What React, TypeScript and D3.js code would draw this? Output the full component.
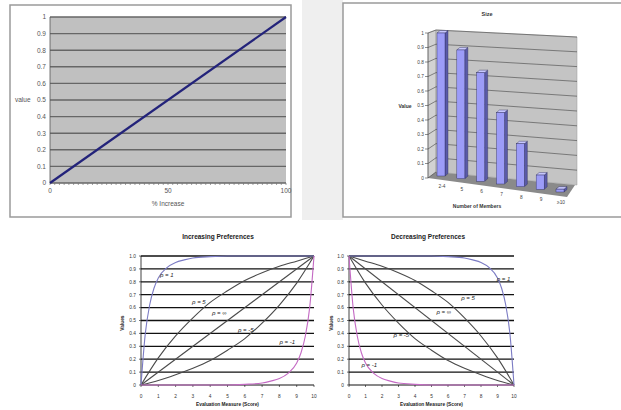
import React from 'react';
import * as d3 from 'd3';

// ---------- Data ----------
// Top-left: value vs % increase
const pctIncrease = [0, 100];
const pctValue = [0, 1];
const tlYTicks = [0, 0.1, 0.2, 0.3, 0.4, 0.5, 0.6, 0.7, 0.8, 0.9, 1];
const tlXTicks = [0, 50, 100];

// Top-right: Size (3D column)
const sizeCats = ['2-4', '5', '6', '7', '8', '9', '≥10'];
const sizeVals = [1.0, 0.9, 0.76, 0.5, 0.3, 0.1, 0.02];
const sizeTicks = [0, 0.1, 0.2, 0.3, 0.4, 0.5, 0.6, 0.7, 0.8, 0.9, 1];

// Bottom: preference curves
const prefYTicks = [0, 0.1, 0.2, 0.3, 0.4, 0.5, 0.6, 0.7, 0.8, 0.9, 1.0];
const prefXTicks = [0, 1, 2, 3, 4, 5, 6, 7, 8, 9, 10];

const incR1X = [0, 0.25, 0.5, 0.75, 1, 1.5, 2, 2.5, 3, 4, 5, 6, 7, 8, 9, 10];
const incR1Y = [0, 0.4, 0.62, 0.75, 0.83, 0.91, 0.95, 0.97, 0.985, 0.995, 1, 1, 1, 1, 1, 1];
const incR5X = [0, 1, 2, 3, 4, 5, 6, 7, 8, 9, 10];
const incR5Y = [0, 0.21, 0.38, 0.52, 0.64, 0.73, 0.81, 0.87, 0.92, 0.96, 1];
const incRInfX = [0, 10];
const incRInfY = [0, 1];
const incRm5X = [0, 1, 2, 3, 4, 5, 6, 7, 8, 9, 10];
const incRm5Y = [0, 0.035, 0.08, 0.13, 0.19, 0.27, 0.36, 0.48, 0.62, 0.79, 1];
const incRm1X = [0, 5, 6, 7, 7.5, 8, 8.5, 9, 9.25, 9.5, 9.75, 10];
const incRm1Y = [0, 0, 0.005, 0.015, 0.03, 0.05, 0.09, 0.17, 0.25, 0.38, 0.6, 1];

const decR1X = [0, 1, 2, 3, 4, 5, 6, 7, 7.5, 8, 8.5, 9, 9.25, 9.5, 9.75, 10];
const decR1Y = [1, 1, 1, 1, 1, 1, 0.995, 0.985, 0.97, 0.95, 0.91, 0.83, 0.75, 0.62, 0.4, 0];
const decR5X = [0, 1, 2, 3, 4, 5, 6, 7, 8, 9, 10];
const decR5Y = [1, 0.96, 0.92, 0.87, 0.81, 0.73, 0.64, 0.52, 0.38, 0.21, 0];
const decRInfX = [0, 10];
const decRInfY = [1, 0];
const decRm5X = [0, 1, 2, 3, 4, 5, 6, 7, 8, 9, 10];
const decRm5Y = [1, 0.79, 0.62, 0.48, 0.36, 0.27, 0.19, 0.13, 0.08, 0.035, 0];
const decRm1X = [0, 0.25, 0.5, 0.75, 1, 1.5, 2, 2.5, 3, 4, 5, 10];
const decRm1Y = [1, 0.6, 0.38, 0.25, 0.17, 0.09, 0.05, 0.03, 0.015, 0.005, 0, 0];

const incLabels = ['ρ = 1', 'ρ = 5', 'ρ = ∞', 'ρ = -5', 'ρ = -1'];
const incLabelX = [1.1, 2.95, 4.1, 5.6, 8.0];
const incLabelY = [0.84, 0.63, 0.54, 0.41, 0.32];
const decLabels = ['ρ = 1', 'ρ = 5', 'ρ = ∞', 'ρ = -5', 'ρ = -1'];
const decLabelX = [8.95, 6.8, 5.3, 2.7, 0.75];
const decLabelY = [0.81, 0.66, 0.55, 0.37, 0.14];

const FONT = '"Liberation Sans", Arial, sans-serif';
const LAV = '#7b7bc4';
const PINK = '#c46ac4';
const DARK = '#4a4a4a';

function TopLeft() {
  const x = d3.scaleLinear().domain([0, 100]).range([50, 286]);
  const y = d3.scaleLinear().domain([0, 1]).range([183, 17]);
  const line = d3.line<number>().x((_, i) => x(pctIncrease[i])).y((d) => y(d));
  const minor = d3.range(0, 101, 2);
  return (
    <g>
      <rect x={10} y={5} width={281} height={212} fill="#fff" stroke="#9a9a9a" strokeWidth={1.5} />
      <rect x={x(0)} y={y(1)} width={x(100) - x(0)} height={y(0) - y(1)} fill="#c0c0c0" />
      {tlYTicks.map((t) => (
        <line key={t} x1={x(0)} x2={x(100)} y1={y(t)} y2={y(t)} stroke="#666" strokeWidth={1.4} />
      ))}
      {minor.map((m) => (
        <line key={m} x1={x(m)} x2={x(m)} y1={y(0)} y2={y(0) + 2} stroke="#777" strokeWidth={0.7} />
      ))}
      <line x1={x(0)} x2={x(0)} y1={y(0)} y2={y(1)} stroke="#555" strokeWidth={0.8} />
      {tlYTicks.map((t) => (
        <text key={t} x={x(0) - 4} y={y(t) + 2.3} fontSize={6.5} fill="#555" textAnchor="end" fontFamily={FONT}>
          {d3.format('~g')(t)}
        </text>
      ))}
      {tlXTicks.map((t) => (
        <text key={t} x={x(t)} y={y(0) + 10} fontSize={6.5} fill="#555" textAnchor="middle" fontFamily={FONT}>
          {t}
        </text>
      ))}
      <text x={x(50)} y={206} fontSize={6.5} fill="#555" textAnchor="middle" fontFamily={FONT}>% Increase</text>
      <text x={15} y={y(0.5) + 2.3} fontSize={6.5} fill="#555" fontFamily={FONT}>value</text>
      <path d={line(pctValue) || ''} fill="none" stroke="#23237a" strokeWidth={2.2} />
    </g>
  );
}

function TopRight() {
  const xs = d3.scalePoint<string>().domain(sizeCats).range([441, 560]);
  const base = d3.scaleLinear().domain([441, 560]).range([176, 192]);
  const h = d3.scaleLinear().domain([0, 1]).range([0, 143]);
  const yAx = d3.scaleLinear().domain([0, 1]).range([178, 33]);
  const wallL = d3.scaleLinear().domain([0, 1]).range([172, 30]);
  const wallR = d3.scaleLinear().domain([0, 1]).range([185, 37]);
  const fx = 428, bx = 436, rx = 577;
  return (
    <g>
      <rect x={302} y={0} width={41} height={220} fill="#efefef" />
      <rect x={343} y={3} width={290} height={214} fill="#fff" stroke="#9a9a9a" strokeWidth={1.5} />
      <text x={487} y={16} fontSize={5.5} fontWeight="bold" fill="#333" textAnchor="middle" fontFamily={FONT}>Size</text>
      <polygon points={`${fx},${yAx(1)} ${bx},${wallL(1)} ${bx},${wallL(0)} ${fx},${yAx(0)}`} fill="#d2d2d2" stroke="#888" strokeWidth={0.5} />
      <polygon points={`${bx},${wallL(1)} ${rx},${wallR(1)} ${rx},${wallR(0)} ${bx},${wallL(0)}`} fill="#c4c4c4" stroke="#999" strokeWidth={0.5} />
      <polygon points={`${fx},${yAx(0)} ${bx},${wallL(0)} ${rx - 2},${wallR(0)} ${rx - 10},197`} fill="#8a8a8a" />
      {sizeTicks.map((t) => (
        <g key={t}>
          <line x1={fx} x2={bx} y1={yAx(t)} y2={wallL(t)} stroke="#444" strokeWidth={0.6} />
          {t > 0 && <line x1={bx} x2={rx} y1={wallL(t)} y2={wallR(t)} stroke="#444" strokeWidth={0.6} />}
          <line x1={fx - 3} x2={fx} y1={yAx(t)} y2={yAx(t)} stroke="#444" strokeWidth={0.6} />
          <text x={fx - 4} y={yAx(t) + 1.8} fontSize={4.8} fill="#444" textAnchor="end" fontFamily={FONT}>
            {d3.format('~g')(t)}
          </text>
        </g>
      ))}
      <line x1={fx} x2={fx} y1={yAx(0)} y2={yAx(1)} stroke="#444" strokeWidth={0.6} />
      {sizeCats.map((c, i) => {
        const cx = xs(c) as number;
        const b = base(cx);
        const top = b - h(sizeVals[i]);
        const w = 4, dx = 3, dy = 2.5;
        return (
          <g key={c}>
            <polygon points={`${cx + w},${b} ${cx + w + dx},${b - dy} ${cx + w + dx},${top - dy} ${cx + w},${top}`} fill="#5a5aa8" stroke="#2a2a5a" strokeWidth={0.4} />
            <polygon points={`${cx - w},${top} ${cx + w},${top} ${cx + w + dx},${top - dy} ${cx - w + dx},${top - dy}`} fill="#c8c8ff" stroke="#2a2a5a" strokeWidth={0.4} />
            <rect x={cx - w} y={top} width={2 * w} height={b - top} fill="#9c9cf8" stroke="#2a2a5a" strokeWidth={0.4} />
            <text x={cx + 1} y={b + 12} fontSize={4.8} fill="#444" textAnchor="middle" fontFamily={FONT}>{c}</text>
          </g>
        );
      })}
      <text x={405} y={108} fontSize={5} fontWeight="bold" fill="#333" textAnchor="middle" fontFamily={FONT}>Value</text>
      <text x={477} y={208} fontSize={5} fontWeight="bold" fill="#333" textAnchor="middle" fontFamily={FONT}>Number of Members</text>
    </g>
  );
}

type Series = { xs: number[]; ys: number[]; color: string };

function PrefChart(props: {
  x0: number; x1: number; title: string; titleX: number; valuesX: number;
  series: Series[]; labels: string[]; lx: number[]; ly: number[];
}) {
  const x = d3.scaleLinear().domain([0, 10]).range([props.x0, props.x1]);
  const y = d3.scaleLinear().domain([0, 1]).range([385, 256]);
  const mk = (s: Series) =>
    d3.line<number>().x((_, i) => x(s.xs[i])).y((d) => y(d)).curve(d3.curveMonotoneX)(s.ys) || '';
  return (
    <g>
      <text x={props.titleX} y={239} fontSize={6.5} fontWeight="bold" fill="#222" textAnchor="middle" fontFamily={FONT}>
        {props.title}
      </text>
      {prefYTicks.map((t) => (
        <g key={t}>
          <line x1={x(0)} x2={x(10)} y1={y(t)} y2={y(t)} stroke="#111" strokeWidth={t === 0 ? 1 : 1.3} />
          <text x={x(0) - 5} y={y(t) + 1.8} fontSize={4.8} fill="#333" textAnchor="end" fontFamily={FONT}>
            {t === 0 ? '0' : d3.format('.1f')(t)}
          </text>
          <line x1={x(0) - 2} x2={x(0)} y1={y(t)} y2={y(t)} stroke="#111" strokeWidth={0.6} />
        </g>
      ))}
      <line x1={x(0)} x2={x(0)} y1={y(0)} y2={y(1)} stroke="#111" strokeWidth={0.8} />
      {prefXTicks.map((t) => (
        <g key={t}>
          <line x1={x(t)} x2={x(t)} y1={y(0)} y2={y(0) + 2} stroke="#111" strokeWidth={0.6} />
          <text x={x(t)} y={y(0) + 13} fontSize={4.8} fill="#333" textAnchor="middle" fontFamily={FONT}>{t}</text>
        </g>
      ))}
      <text
        transform={`translate(${props.valuesX},${y(0.48)}) rotate(-90)`}
        fontSize={4.8} fontWeight="bold" fill="#222" textAnchor="middle" fontFamily={FONT}
      >Values</text>
      <text x={x(5)} y={406} fontSize={4.8} fontWeight="bold" fill="#222" textAnchor="middle" fontFamily={FONT}>
        Evaluation Measure (Score)
      </text>
      {props.series.map((s, i) => (
        <path key={i} d={mk(s)} fill="none" stroke={s.color} strokeWidth={1.1} />
      ))}
      {props.labels.map((l, i) => (
        <text key={i} x={x(props.lx[i])} y={y(props.ly[i])} fontSize={6} fill="#222" fontStyle="italic" fontFamily={FONT}>
          {l}
        </text>
      ))}
    </g>
  );
}

export default function App() {
  const incSeries: Series[] = [
    { xs: incR5X, ys: incR5Y, color: DARK },
    { xs: incRInfX, ys: incRInfY, color: DARK },
    { xs: incRm5X, ys: incRm5Y, color: DARK },
    { xs: incR1X, ys: incR1Y, color: LAV },
    { xs: incRm1X, ys: incRm1Y, color: PINK },
  ];
  const decSeries: Series[] = [
    { xs: decR5X, ys: decR5Y, color: DARK },
    { xs: decRInfX, ys: decRInfY, color: DARK },
    { xs: decRm5X, ys: decRm5Y, color: DARK },
    { xs: decR1X, ys: decR1Y, color: LAV },
    { xs: decRm1X, ys: decRm1Y, color: PINK },
  ];
  return (
    <svg width={621} height={410} style={{ position: 'absolute', left: 0, top: 0, background: '#fff' }}>
      <TopLeft />
      <TopRight />
      <PrefChart x0={141} x1={314} title="Increasing Preferences" titleX={218} valuesX={124}
        series={incSeries} labels={incLabels} lx={incLabelX} ly={incLabelY} />
      <PrefChart x0={349} x1={514} title="Decreasing Preferences" titleX={428} valuesX={333}
        series={decSeries} labels={decLabels} lx={decLabelX} ly={decLabelY} />
    </svg>
  );
}
